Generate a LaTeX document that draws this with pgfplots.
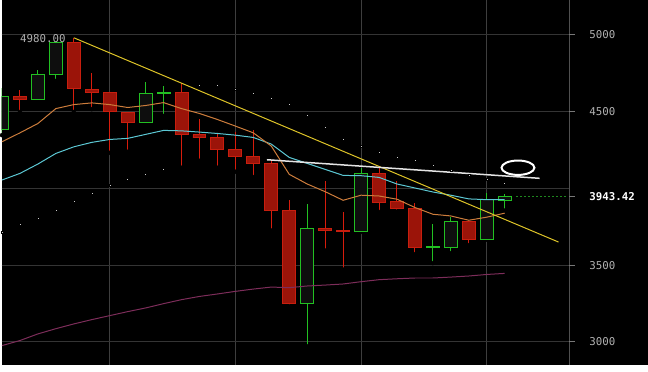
\documentclass[border=0pt]{standalone}
\usepackage{pgfplots}
\usepackage{pgfplotstable}
\pgfplotsset{compat=1.18}
\usepackage{fontspec}
\setmonofont{DejaVu Sans Mono}
\definecolor{hgrid}{RGB}{52,52,52}
\definecolor{vgrid}{RGB}{62,62,62}
\definecolor{axisgray}{RGB}{80,80,80}
\definecolor{tickgray}{RGB}{120,120,120}
\definecolor{lblgray}{RGB}{178,178,178}
\definecolor{redfill}{RGB}{155,20,9}
\definecolor{redborder}{RGB}{200,30,14}
\definecolor{redwick}{RGB}{215,28,12}
\definecolor{greenborder}{RGB}{34,192,34}
\definecolor{greenfill}{RGB}{14,14,14}
\definecolor{mapurple}{RGB}{125,45,90}
\definecolor{maorange}{RGB}{205,125,60}
\definecolor{macyan}{RGB}{92,200,212}
\definecolor{trendyellow}{RGB}{222,196,40}
\definecolor{trendwhite}{RGB}{228,228,228}
\definecolor{sargray}{RGB}{205,205,205}
\definecolor{dotgreen}{RGB}{30,135,30}
% bearish candles: k open high low close
\pgfplotstableread{
k o h l c
1 4597 4638 4497 4578
4 4950 4980 4497 4647
5 4643 4749 4515 4621
6 4623 4626 4231 4497
7 4494 4497 4238 4426
10 4623 4688 4134 4348
11 4351 4450 4179 4329
12 4333 4355 4134 4251
13 4253 4364 4108 4205
14 4208 4379 4073 4160
15 4162 4176 3725 3857
16 3857 3924 3231 3253
18 3736 4047 3595 3728
19 3726 3846 3471 3719
21 4099 4130 3846 3906
22 3911 4047 3848 3868
23 3870 3905 3571 3617
26 3786 3790 3630 3669
}\bears
% bullish candles: k open high low close
\pgfplotstableread{
k o h l c
0 4383 4656 4346 4595
2 4578 4768 4575 4740
3 4740 4952 4699 4950
8 4426 4690 4424 4617
9 4618 4664 4471 4624
17 3253 3898 2971 3740
20 3718 4134 3716 4099
24 3617 3768 3513 3623
25 3617 3816 3578 3786
27 3669 3968 3665 3924
28 3922 3963 3855 3943.42
}\bulls
\pgfplotsset{
  common/.style={at={(0pt,0pt)}, anchor=south west,
    scale only axis, width=569pt, height=365pt,
    xmin=-0.0167, xmax=31.594, ymin=2852.6, ymax=5222.7},
  wick/.style={only marks, mark=none, forget plot,
    error bars/.cd, y dir=plus, y explicit, error mark=none,
    error bar style={draw=#1, line width=1pt, line cap=butt, solid}},
}
\newcommand\lblfont{\fontsize{10.8}{12}\selectfont\ttfamily}
\begin{document}
\begin{tikzpicture}
\fill[black] (0pt,0pt) rectangle (648pt,365pt);
% base axis: grid, labels, wicks
\begin{axis}[common,
  axis line style={draw=none},
  xtick={6,13,20,27}, xticklabels={},
  ytick={3000,3500,4000,4500,5000}, yticklabels={3000,3500,{},4500,5000},
  yticklabel pos=right,
  major tick length=0pt,
  xmajorgrids, ymajorgrids,
  x grid style={color=vgrid, line width=1pt},
  y grid style={color=hgrid, line width=1pt},
  yticklabel style={font=\lblfont, text=lblgray, anchor=west, inner sep=0pt, xshift=20pt},
  extra y ticks={3943.42}, extra y tick labels={3943.42},
  extra y tick style={ymajorgrids=false, yticklabel style={text=white, font=\lblfont\bfseries}},
]
\addplot[wick=redwick] table[x=k, y=l, y error plus expr=\thisrow{h}-\thisrow{l}] {\bears};
\addplot[wick=greenborder] table[x=k, y=l, y error plus expr=\thisrow{h}-\thisrow{l}] {\bulls};
\coordinate (t5000) at (axis cs:31.594,5000);
\coordinate (t4500) at (axis cs:31.594,4500);
\coordinate (t3943) at (axis cs:31.594,3943.42);
\coordinate (t3500) at (axis cs:31.594,3500);
\coordinate (t3000) at (axis cs:31.594,3000);
\coordinate (hi) at (axis cs:4,4980);
\end{axis}
% bearish bodies
\begin{axis}[common, hide axis, ybar stacked, bar width=13pt]
\addplot[draw=none, fill=none] table[x=k, y=c] {\bears};
\addplot[draw=redborder, fill=redfill, line width=1pt] table[x=k, y expr=\thisrow{o}-\thisrow{c}] {\bears};
\end{axis}
% bullish bodies
\begin{axis}[common, hide axis, ybar stacked, bar width=13pt]
\addplot[draw=none, fill=none] table[x=k, y=o] {\bulls};
\addplot[draw=greenborder, fill=greenfill, line width=1pt] table[x=k, y expr=\thisrow{c}-\thisrow{o}] {\bulls};
\end{axis}
% overlays
\begin{axis}[common, hide axis]
\addplot[mapurple, line width=1pt, mark=none] coordinates {
(0,2976) (1,3009) (2,3052) (3,3086) (4,3117) (5,3145) (6,3171) (7,3197) (8,3221) (9,3249)
(10,3275) (11,3296) (12,3312) (13,3329) (14,3344) (15,3357) (16,3353) (17,3364) (18,3370) (19,3377)
(20,3392) (21,3405) (22,3411) (23,3416) (24,3416) (25,3422) (26,3429) (27,3439) (28,3446)};
\addplot[macyan, line width=1pt, mark=none] coordinates {
(0,4054) (1,4097) (2,4158) (3,4227) (4,4270) (5,4299) (6,4318) (7,4325) (8,4351) (9,4377)
(10,4374) (11,4366) (12,4357) (13,4346) (14,4331) (15,4288) (16,4201) (17,4162) (18,4123) (19,4084)
(20,4082) (21,4071) (22,4028) (23,4002) (24,3976) (25,3955) (26,3931) (27,3926) (28,3926)};
\addplot[maorange, line width=1pt, mark=none] coordinates {
(0,4303) (1,4361) (2,4422) (3,4519) (4,4545) (5,4556) (6,4545) (7,4526) (8,4539) (9,4558)
(10,4519) (11,4487) (12,4448) (13,4405) (14,4361) (15,4275) (16,4091) (17,4028) (18,3978) (19,3922)
(20,3955) (21,3950) (22,3929) (23,3875) (24,3831) (25,3820) (26,3792) (27,3812) (28,3838)};
\addplot[trendyellow, line width=1pt, mark=none] coordinates {(4,4980) (31,3650)};
\addplot[trendwhite, line width=1.5pt, mark=none] coordinates {(14.75,4186) (29.95,4065)};
\addplot[dotgreen, line width=1pt, dash pattern=on 2pt off 2pt, mark=none] coordinates {(28.65,3943.42) (31.48,3943.42)};
\addplot[only marks, mark=square*, mark size=1pt, mark options={draw=none, fill=sargray}] coordinates {
(0,3712) (1,3764) (2,3807) (3,3859) (4,3918) (5,3970) (6,4021) (7,4060) (8,4095) (9,4127)
(11,4671) (12,4671) (13,4645) (14,4619) (15,4586) (16,4547) (17,4476) (18,4398) (19,4320)
(20,4275) (21,4236) (22,4203) (23,4184) (24,4151) (25,4119) (26,4088) (27,4060) (28,4036)};
\coordinate (ell) at (axis cs:28.74,4134);
\end{axis}
\draw[white, line width=2pt] (ell) ellipse [x radius=16.5pt, y radius=7.2pt];
\draw[axisgray, line width=1pt] (569pt,0pt) -- (569pt,365pt);
\draw[tickgray, line width=1pt] (t5000) -- ++(6pt,0pt);
\draw[tickgray, line width=1pt] (t4500) -- ++(6pt,0pt);
\draw[tickgray, line width=1pt] (t3943) -- ++(6pt,0pt);
\draw[tickgray, line width=1pt] (t3500) -- ++(6pt,0pt);
\draw[tickgray, line width=1pt] (t3000) -- ++(6pt,0pt);
\node[anchor=east, inner sep=0pt, font=\lblfont, text=lblgray] at ([xshift=-8pt, yshift=-1.3pt]hi) {4980.00};
\end{tikzpicture}
\end{document}
